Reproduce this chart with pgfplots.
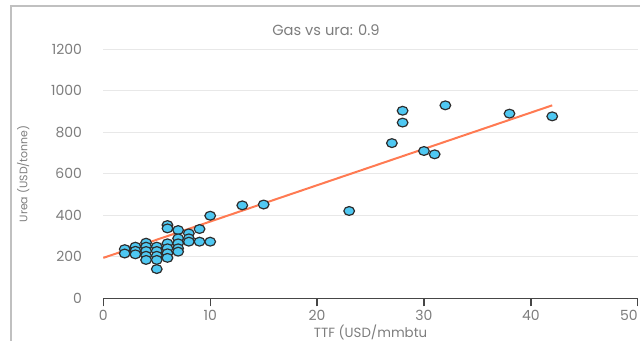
\documentclass[border=0pt]{standalone}
\usepackage{pgfplots}
\pgfplotsset{compat=1.18}
\usepackage{fontspec}
\setmainfont{Poppins}
\definecolor{ptfill}{RGB}{79,200,242}
\definecolor{ptedge}{RGB}{45,45,45}
\definecolor{fitline}{RGB}{255,122,82}
\definecolor{txtgray}{RGB}{125,125,125}
\definecolor{gridgray}{RGB}{232,232,232}
\definecolor{framegray}{RGB}{192,192,192}
\definecolor{axisgray}{RGB}{70,70,70}
\pgfdeclareplotmark{ellip}{%
  \pgfpathellipse{\pgfpointorigin}{\pgfpoint{4pt}{0pt}}{\pgfpoint{0pt}{3.3pt}}%
  \pgfusepathqfillstroke}
\begin{document}
\begin{tikzpicture}
\useasboundingbox (0,0) rectangle (480pt,255.75pt);
\draw[framegray, line width=1.5pt] (8.25pt,-5pt) -- (8.25pt,251.25pt) -- (490pt,251.25pt);
\begin{axis}[
  at={(77.5pt,32pt)}, anchor=south west,
  width=400.8pt, height=186.75pt, scale only axis,
  xmin=0, xmax=50, ymin=0, ymax=1200,
  axis x line=bottom, axis y line=left,
  x axis line style={-, draw=axisgray, line width=1pt},
  y axis line style={draw=none},
  xtick={0,10,...,50}, ytick={0,200,...,1200},
  xticklabels={0,10,20,30,40,\llap{50}},
  xtick align=outside, ytick align=inside,
  major tick length=6pt,
  xtick style={draw=axisgray, line width=1pt},
  ytick style={draw=none},
  ymajorgrids, grid style={gridgray, line width=0.8pt},
  tick label style={font=\fontsize{10.5}{11}\selectfont, text=txtgray},
  /pgf/number format/assume math mode=true,
  /pgf/number format/set thousands separator={},
  yticklabel style={anchor=east, xshift=-12.5pt},
  xticklabel style={anchor=center, yshift=-6.5pt},
  label style={font=\fontsize{10}{11}\selectfont, text=txtgray},
  xlabel={TTF (USD/mmbtu},
  ylabel={Urea (USD/tonne)},
  xlabel style={at={(axis description cs:0.5,-0.1366)}, anchor=center},
  ylabel style={at={(axis description cs:-0.1497,0.5)}, anchor=center, rotate=0, font=\fontsize{8.2}{9}\selectfont},
  clip=false,
]
\addplot[only marks, mark=ellip, mark options={fill=ptfill, draw=ptedge, line width=0.9pt}]
coordinates {
(2,237)(2,216)
(3,249)(3,229)(3,212)
(4,268)(4,249)(4,228)(4,205)(4,185)
(5,249)(5,228)(5,205)(5,185)(5,141)
(6,353)(6,337)(6,265)(6,241)(6,217)(6,195)
(7,329)(7,289)(7,265)(7,241)(7,225)
(8,313)(8,289)(8,273)
(9,334)(9,273)
(10,398)(10,273)
(13,448)(15,452)
(23,421)(27,748)(28,904)(28,847)(30,710)(31,694)(32,930)(38,890)(42,877)
};
\addplot[fitline, line width=1.5pt] coordinates {(0,195)(42,930)};
\end{axis}
\node[font=\fontsize{11}{12}\selectfont, text=txtgray, anchor=center] at (244.5pt,233.25pt) {Gas vs ura: 0.9};
\end{tikzpicture}
\end{document}
